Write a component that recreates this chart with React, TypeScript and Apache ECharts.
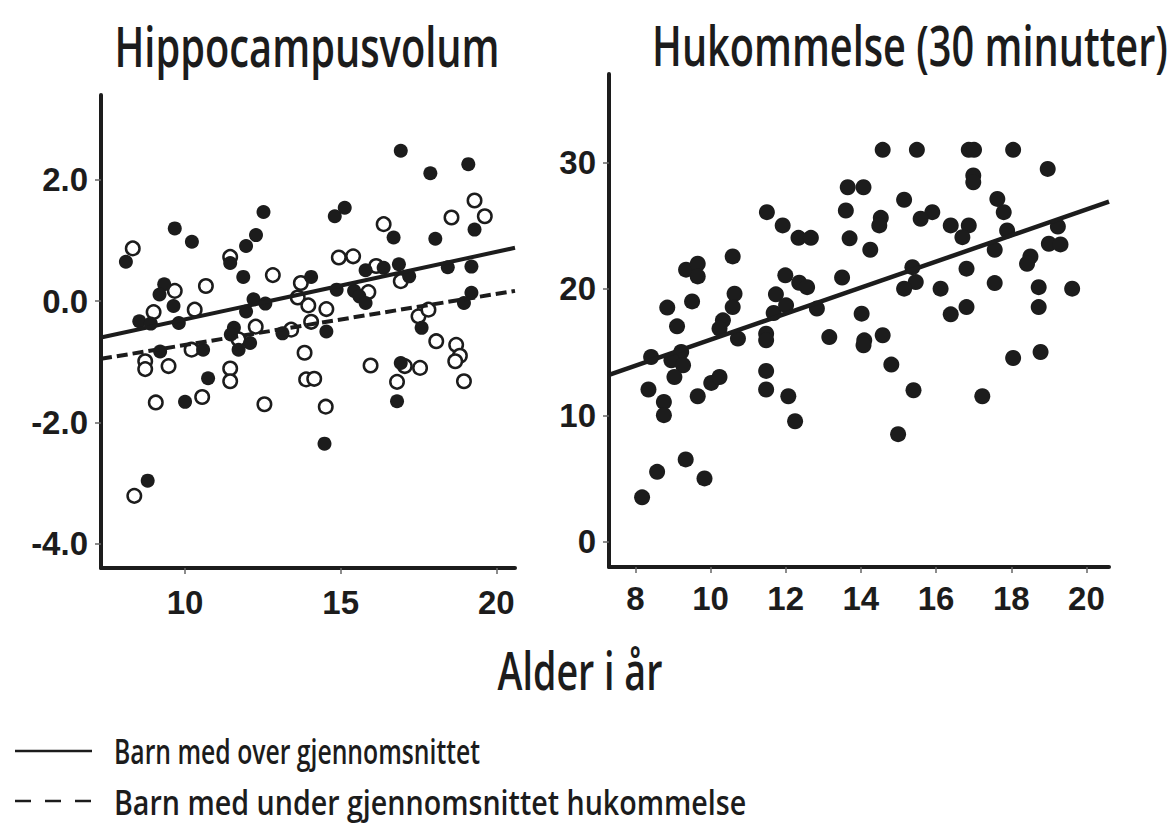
import React, { useEffect, useRef } from "react";
import * as echarts from "echarts";

// ---- Data ----
const panelTitles = ["Hippocampusvolum", "Hukommelse (30 minutter)"];
const xAxisTitle = "Alder i år";
const legendLabels = ["Barn med over gjennomsnittet", "Barn med under gjennomsnittet hukommelse"];

const leftXTicks = [10, 15, 20];
const leftYTicks = [-4, -2, 0, 2];
const rightXTicks = [8, 10, 12, 14, 16, 18, 20];
const rightYTicks = [0, 10, 20, 30];

// Hippocampus volume: children with above-average memory (filled)
const leftFilled: [number, number][] = [
  [16.93, 2.48], [19.1, 2.26], [17.88, 2.11], [12.52, 1.47], [14.81, 1.4], [15.13, 1.54],
  [9.67, 1.2], [10.22, 0.98], [12.28, 1.09], [11.96, 0.91], [16.7, 1.05], [18.04, 1.03],
  [19.3, 1.18], [8.1, 0.65], [11.45, 0.63], [11.87, 0.4], [15.8, 0.51], [16.38, 0.55],
  [16.87, 0.61], [18.44, 0.56], [19.2, 0.57], [17.2, 0.41], [14.05, 0.4], [9.33, 0.28],
  [9.18, 0.11], [9.63, -0.08], [9.8, -0.36], [8.53, -0.33], [8.9, -0.37], [12.2, 0.03],
  [12.58, -0.04], [11.96, -0.17], [14.87, 0.19], [15.43, 0.17], [15.6, 0.08], [15.8, -0.03],
  [11.57, -0.44], [11.47, -0.55], [12.09, -0.69], [11.72, -0.8], [13.13, -0.53], [14.54, -0.5],
  [17.6, -0.44], [18.96, -0.03], [19.2, 0.14], [9.2, -0.83], [10.58, -0.8], [10.74, -1.27],
  [10.0, -1.66], [16.93, -1.02], [16.81, -1.65], [14.48, -2.35], [8.8, -2.96],
];

// Hippocampus volume: children with below-average memory (open)
const leftOpen: [number, number][] = [
  [8.32, 0.87], [11.45, 0.73], [12.82, 0.43], [10.67, 0.25], [9.67, 0.17], [8.99, -0.18],
  [10.31, -0.14], [14.94, 0.72], [15.4, 0.74], [16.38, 1.27], [16.14, 0.58], [15.89, 0.15],
  [18.56, 1.38], [19.3, 1.66], [19.63, 1.4], [13.72, 0.3], [13.62, 0.06], [13.96, -0.07],
  [14.54, -0.13], [14.05, -0.34], [16.93, 0.33], [12.27, -0.42], [13.41, -0.47], [17.5, -0.25],
  [17.82, -0.14], [18.07, -0.66], [18.71, -0.72], [18.83, -0.9], [18.68, -0.99], [18.96, -1.32],
  [17.55, -1.1], [15.96, -1.06], [16.81, -1.33], [17.06, -1.07], [13.84, -0.85], [13.89, -1.29],
  [14.15, -1.28], [14.52, -1.74], [12.55, -1.7], [11.45, -1.11], [11.45, -1.32], [10.55, -1.58],
  [9.06, -1.67], [9.47, -1.07], [8.72, -0.99], [8.72, -1.12], [10.21, -0.8], [8.37, -3.21],
  [11.72, -0.63],
];

const leftSolidTrend: [number, number][] = [[7.3, -0.6], [20.6, 0.88]];
const leftDashedTrend: [number, number][] = [[7.3, -0.95], [20.6, 0.17]];

// Memory (30 minutes)
const rightPoints: [number, number][] = [
  [13.65, 28.04], [13.6, 26.2], [13.7, 24.0], [11.5, 26.07], [11.92, 25.02], [12.34, 24.04],
  [12.67, 24.04], [10.59, 22.57], [9.35, 21.52], [9.66, 21.99], [9.66, 20.99], [11.99, 21.07],
  [12.36, 20.49], [12.57, 20.14], [13.5, 20.9], [10.64, 19.62], [8.85, 18.52], [9.51, 19.01],
  [11.74, 19.57], [10.59, 18.56], [11.68, 18.09], [12.01, 18.7], [12.83, 18.44], [10.33, 17.51],
  [9.11, 17.04], [10.24, 16.86], [11.48, 16.46], [13.16, 16.19],
  [14.58, 31.0], [15.49, 31.0], [16.87, 31.0], [17.01, 31.0], [18.05, 31.0], [18.97, 29.49],
  [16.99, 28.97], [16.99, 28.44], [14.07, 28.04], [15.15, 27.05], [17.63, 27.12], [17.8, 26.07],
  [15.9, 26.07], [15.59, 25.55], [14.53, 25.62], [14.49, 25.02], [16.39, 25.02], [16.87, 25.02],
  [16.7, 24.09], [14.25, 23.1], [17.89, 24.62], [17.56, 23.1], [18.51, 22.57], [18.42, 21.99],
  [19.24, 24.94], [19.0, 23.57], [19.31, 23.52], [15.37, 21.72], [15.46, 20.54], [15.15, 20.02],
  [16.12, 20.02], [16.81, 21.6], [17.56, 20.46], [18.73, 20.14], [19.62, 20.02], [18.73, 18.56],
  [16.81, 18.56], [16.39, 17.99], [14.02, 18.04], [14.58, 16.33], [14.09, 15.93],
  [10.73, 16.07], [11.48, 15.93], [8.42, 14.61], [9.22, 15.01], [8.96, 14.35], [9.27, 13.96],
  [9.04, 13.03], [8.35, 12.04], [8.76, 11.06], [8.76, 10.01], [9.66, 11.51], [10.02, 12.56],
  [10.24, 13.03], [11.48, 13.51], [11.48, 12.04], [12.07, 11.51], [12.25, 9.53], [9.34, 6.51],
  [8.58, 5.53], [9.84, 5.01], [8.18, 3.51],
  [14.07, 15.54], [14.81, 14.01], [15.4, 11.98], [14.99, 8.51], [17.23, 11.51], [18.05, 14.53],
  [18.78, 15.01],
];

const rightTrend: [number, number][] = [[7.3, 13.2], [20.6, 26.9]];

const INK = "#1c1c1c";
const HUMANIST = "'Open Sans', 'Noto Sans', sans-serif";
const BOLD = "'Liberation Sans', Arial, sans-serif";

// horizontal squeeze so a regular font imitates the condensed face of the reference
function fitScale(text: string, font: string, targetWidth: number): number {
  const ctx = document.createElement("canvas").getContext("2d");
  if (!ctx) return 0.75;
  ctx.font = font;
  const w = ctx.measureText(text).width;
  return w > 0 ? targetWidth / w : 0.75;
}

function squeezedText(text: string, size: number, x: number, y: number, width: number, align: string) {
  const font = `600 ${size}px ${HUMANIST}`;
  const s = fitScale(text, font, width);
  return {
    type: "text",
    x,
    y,
    scaleX: s,
    scaleY: 1,
    style: { text, font, fill: INK, textAlign: align, textVerticalAlign: "middle" },
  };
}

function makeXAxis(gridIndex: number, ticks: number[], margin: number) {
  return {
    gridIndex,
    type: "value",
    min: 7.3,
    max: 20.6,
    splitLine: { show: false },
    axisLine: { show: true, onZero: false, lineStyle: { color: INK, width: 4 } },
    axisTick: { show: true, customValues: ticks, length: 6, lineStyle: { color: "#666", width: 1.5 } },
    axisLabel: {
      customValues: ticks,
      margin,
      fontSize: 33,
      fontWeight: "bold",
      color: INK,
      fontFamily: BOLD,
    },
  };
}

function makeYAxis(gridIndex: number, min: number, max: number, ticks: number[], decimals: number) {
  return {
    gridIndex,
    type: "value",
    min,
    max,
    splitLine: { show: false },
    axisLine: { show: true, onZero: false, lineStyle: { color: INK, width: 4 } },
    axisTick: { show: true, customValues: ticks, length: 6, lineStyle: { color: "#666", width: 1.5 } },
    axisLabel: {
      customValues: ticks,
      margin: 13,
      fontSize: 33,
      fontWeight: "bold",
      color: INK,
      fontFamily: BOLD,
      formatter: (v: number) => v.toFixed(decimals),
    },
  };
}

export default function App() {
  const ref = useRef<HTMLDivElement>(null);

  useEffect(() => {
    if (!ref.current) return;
    const chart = echarts.init(ref.current, null, { renderer: "svg" });
    chart.setOption({
      animation: false,
      backgroundColor: "#ffffff",
      grid: [
        { left: 101, top: 95, width: 414, height: 473 },
        { left: 609, top: 74, width: 500, height: 493 },
      ],
      xAxis: [makeXAxis(0, leftXTicks, 18), makeXAxis(1, rightXTicks, 15)],
      yAxis: [makeYAxis(0, -4.4, 3.4, leftYTicks, 1), makeYAxis(1, -2, 37, rightYTicks, 0)],
      series: [
        {
          type: "scatter",
          xAxisIndex: 0,
          yAxisIndex: 0,
          data: leftOpen,
          symbolSize: 13.5,
          silent: true,
          itemStyle: { color: "#ffffff", borderColor: INK, borderWidth: 2.5, opacity: 1 },
          z: 2,
        },
        {
          type: "scatter",
          xAxisIndex: 0,
          yAxisIndex: 0,
          data: leftFilled,
          symbolSize: 14,
          silent: true,
          itemStyle: { color: INK, opacity: 1 },
          z: 3,
        },
        {
          type: "line",
          xAxisIndex: 0,
          yAxisIndex: 0,
          data: leftSolidTrend,
          showSymbol: false,
          silent: true,
          lineStyle: { color: INK, width: 4 },
          z: 5,
        },
        {
          type: "line",
          xAxisIndex: 0,
          yAxisIndex: 0,
          data: leftDashedTrend,
          showSymbol: false,
          silent: true,
          lineStyle: { color: INK, width: 4, type: [11, 5] },
          z: 5,
        },
        {
          type: "scatter",
          xAxisIndex: 1,
          yAxisIndex: 1,
          data: rightPoints,
          symbolSize: 16,
          silent: true,
          itemStyle: { color: INK, opacity: 1 },
          z: 3,
        },
        {
          type: "line",
          xAxisIndex: 1,
          yAxisIndex: 1,
          data: rightTrend,
          showSymbol: false,
          silent: true,
          lineStyle: { color: INK, width: 4.5 },
          z: 5,
        },
      ],
      graphic: [
        squeezedText(panelTitles[0], 56, 307, 45, 385, "center"),
        squeezedText(panelTitles[1], 56, 910, 44, 516, "center"),
        squeezedText(xAxisTitle, 52, 580, 669, 165, "center"),
        {
          type: "line",
          shape: { x1: 15, y1: 751, x2: 92, y2: 751 },
          style: { stroke: INK, lineWidth: 2.5 },
        },
        squeezedText(legendLabels[0], 35, 114, 751, 366, "left"),
        {
          type: "line",
          shape: { x1: 15, y1: 801, x2: 91, y2: 801 },
          style: { stroke: INK, lineWidth: 2.5, lineDash: [16, 14] },
        },
        squeezedText(legendLabels[1], 35, 114, 801, 632, "left"),
      ],
    });
    return () => chart.dispose();
  }, []);

  return (
    <div
      ref={ref}
      style={{ position: "absolute", left: 0, top: 0, width: 1172, height: 830, background: "#fff" }}
    />
  );
}
